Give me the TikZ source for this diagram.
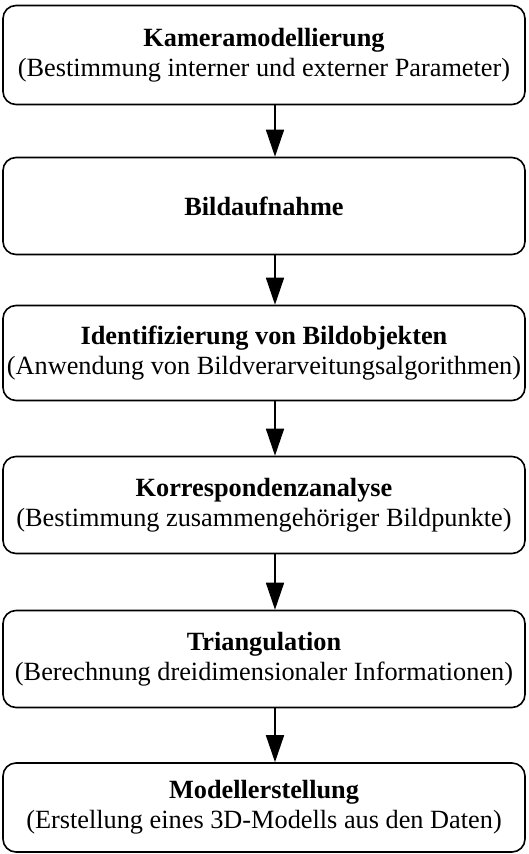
\documentclass[tikz,border=0pt]{standalone}
\usepackage{fontspec}
\setmainfont{Liberation Serif}
\usepackage{tikz}
\usetikzlibrary{arrows.meta}

\begin{document}
\begin{tikzpicture}[x=1pt, y=-1pt,
  stage/.style={draw=black, line width=1.6pt, rounded corners=13pt,
                minimum width=522pt, minimum height=97pt, align=center,
                font=\fontsize{26.3}{30}\selectfont, inner sep=0pt},
  arr/.style={-{Triangle[length=27pt, width=18pt]}, line width=1.6pt},
]
\useasboundingbox (0,0) rectangle (528,854);
\node[stage, minimum height=99pt] (cam) at (264,55) {\textbf{Kameramodellierung}\\(Bestimmung interner und externer Parameter)};
\node[stage] (img) at (264,206) {\textbf{Bildaufnahme}};
\node[stage, minimum height=95pt] (obj) at (264,353) {\textbf{Identifizierung von Bildobjekten}\\(Anwendung von Bildverarveitungsalgorithmen)};
\node[stage] (corr) at (264,505) {\textbf{Korrespondenzanalyse}\\(Bestimmung zusammengehöriger Bildpunkte)};
\node[stage] (tri) at (264,659) {\textbf{Triangulation}\\(Berechnung dreidimensionaler Informationen)};
\node[stage, minimum height=89pt] (model) at (264,807.5) {\textbf{Modellerstellung}\\(Erstellung eines 3D-Modells aus den Daten)};
\draw[arr] ([xshift=11pt]cam.south) -- ([xshift=11pt]img.north);
\draw[arr] ([xshift=11pt]img.south) -- ([xshift=11pt]obj.north);
\draw[arr] ([xshift=11pt]obj.south) -- ([xshift=11pt]corr.north);
\draw[arr] ([xshift=11pt]corr.south) -- ([xshift=11pt]tri.north);
\draw[arr] ([xshift=11pt]tri.south) -- ([xshift=11pt]model.north);
\end{tikzpicture}
\end{document}
